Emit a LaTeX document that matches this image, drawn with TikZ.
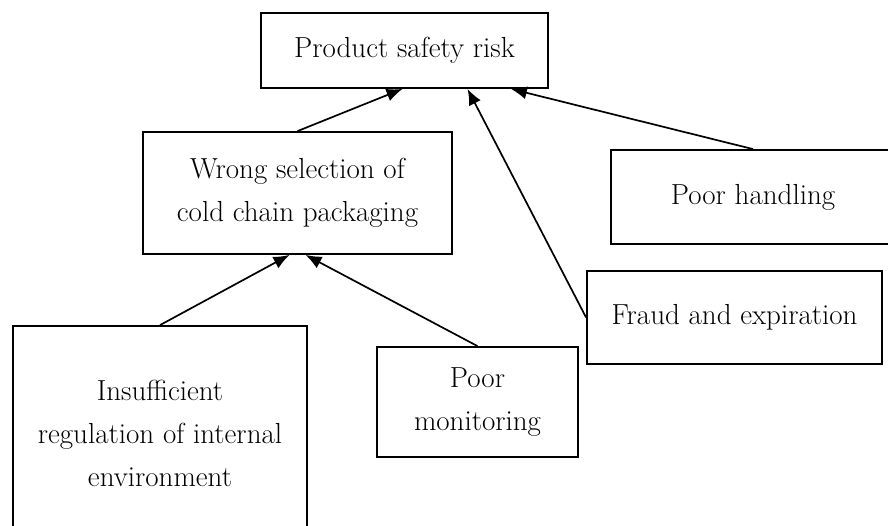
\documentclass[tikz,border=0pt]{standalone}
\usetikzlibrary{arrows.meta}
\begin{document}
\begin{tikzpicture}[x=1pt,y=-1pt,
  box/.style={draw=black,line width=1.8pt,fill=white,inner sep=0pt,align=center,
    font=\fontsize{29}{43}\selectfont},
  link/.style={line width=1.7pt,-{Latex[length=16pt,width=13pt]}}]
\useasboundingbox (0,0) rectangle (888,525);
\clip (0,0) rectangle (888,525);
\node[box,minimum width=287pt,minimum height=75pt] (ps) at (404.5,50.5) {Product safety risk};
\node[box,minimum width=309pt,minimum height=122pt] (ws) at (297.5,193) {Wrong selection of\\cold chain packaging};
\node[box,minimum width=284pt,minimum height=94pt] (ph) at (753,197) {Poor handling};
\node[box,minimum width=295pt,minimum height=93pt] (fe) at (734.5,317.5) {Fraud and expiration};
\node[box,minimum width=294pt,minimum height=214pt] (ir) at (160,433) {Insufficient\\regulation of internal\\environment};
\node[box,minimum width=201pt,minimum height=110pt] (pm) at (477.5,402) {Poor\\monitoring};
\draw[link] (ws.north) -- ([xshift=-2pt]ps.south);
\draw[link] (ph.north) -- ([xshift=-38pt]ps.south east);
\draw[link] (fe.west) -- ([xshift=63pt]ps.south);
\draw[link] (ir.north) -- ([xshift=-8pt]ws.south);
\draw[link] (pm.north) -- ([xshift=8pt]ws.south);
\end{tikzpicture}
\end{document}
